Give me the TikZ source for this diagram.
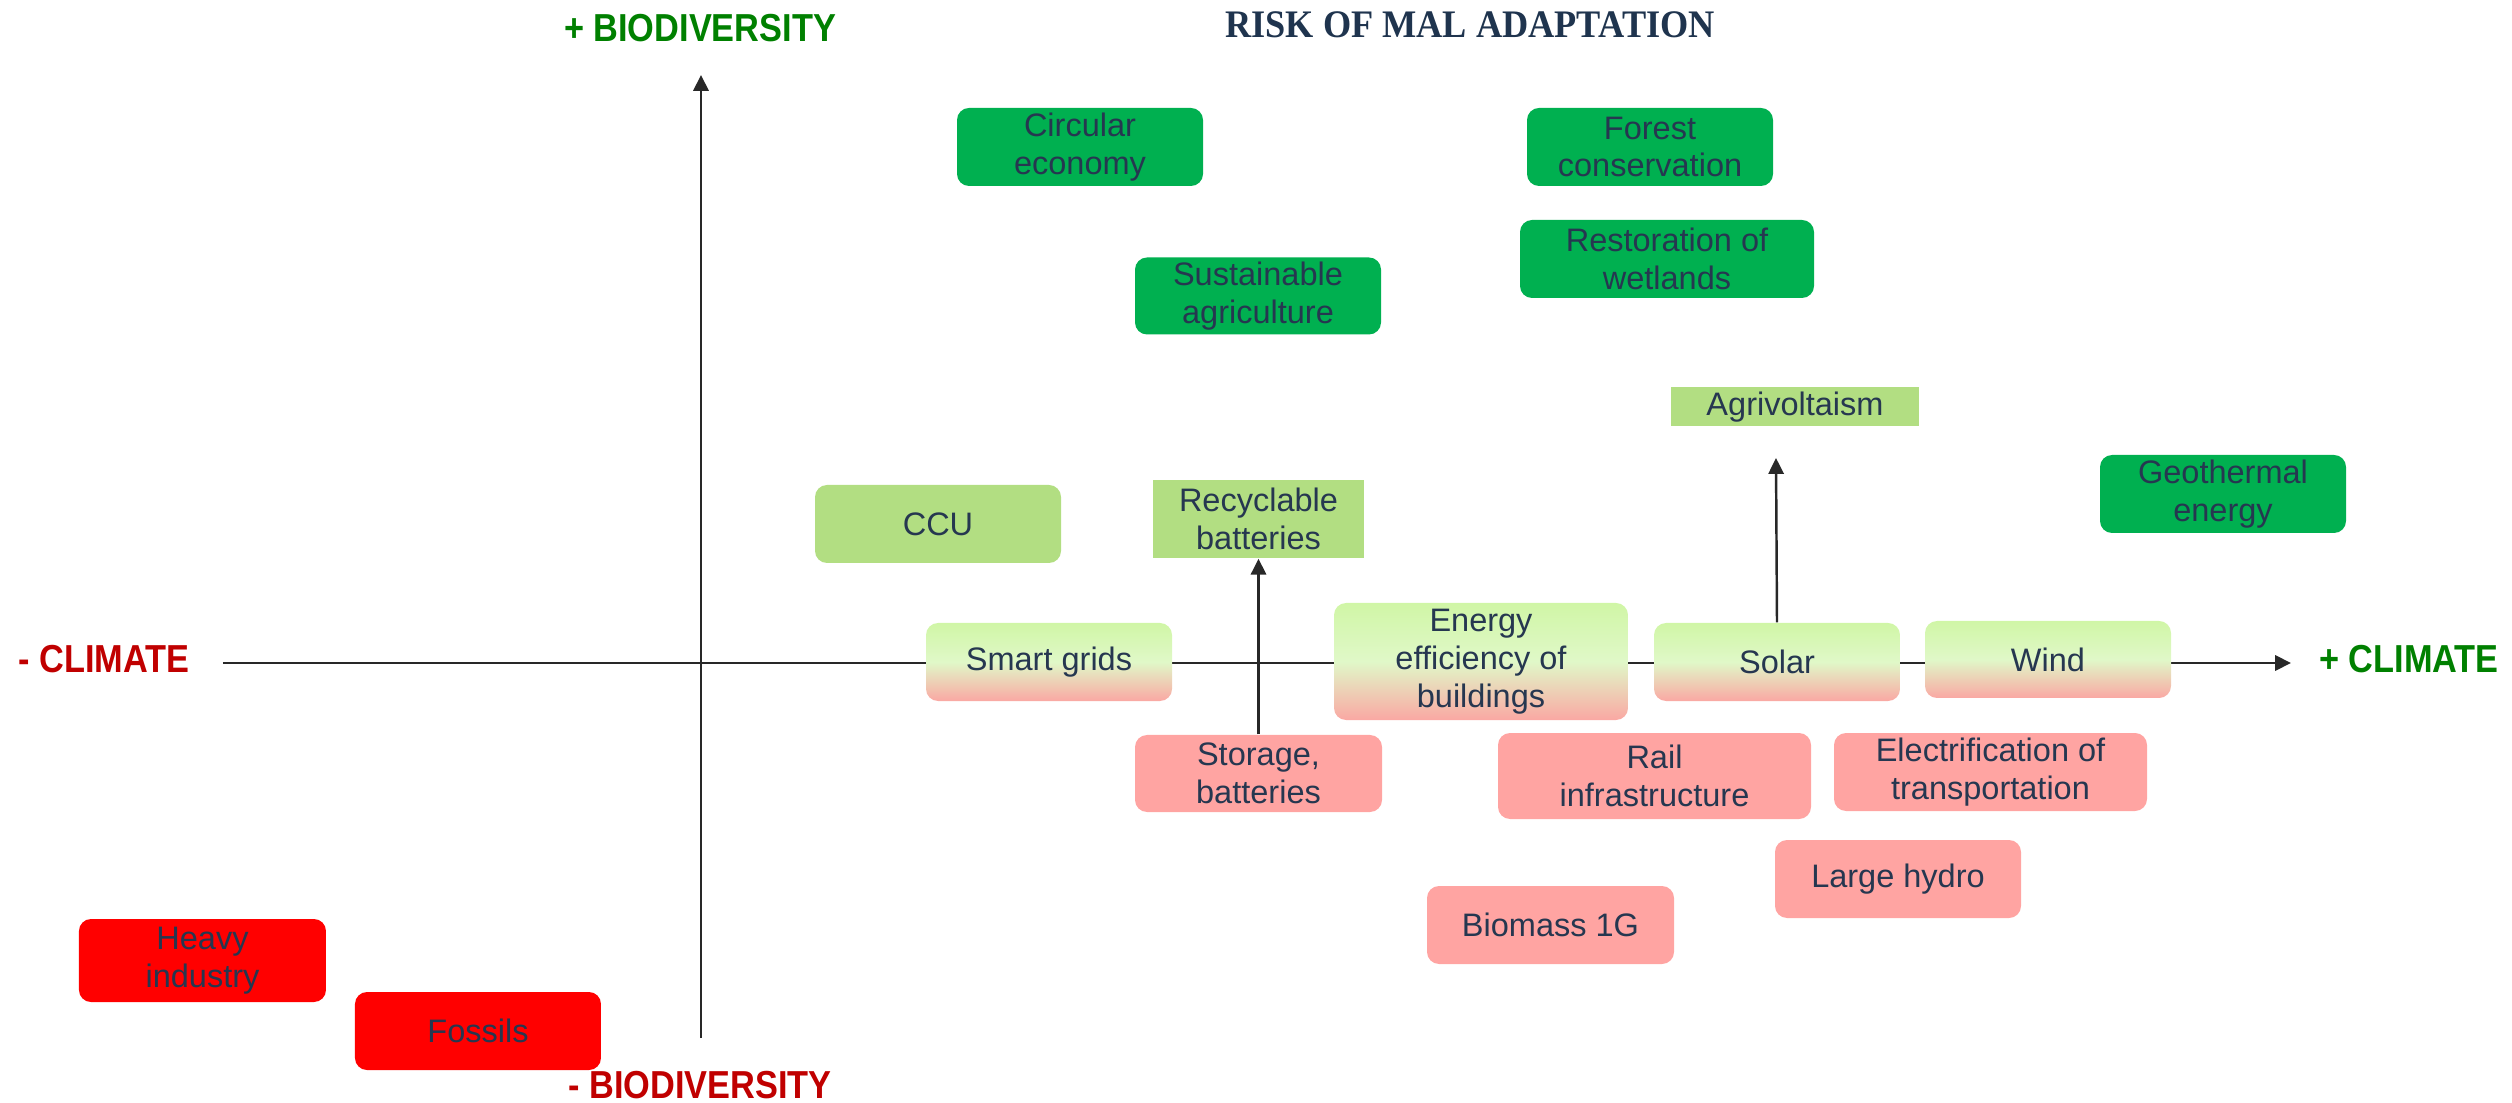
\documentclass[tikz,border=0pt]{standalone}
\usepackage{fontspec}
\setmainfont{Liberation Sans}
\newfontfamily\axisfont[FakeStretch=0.88]{Liberation Sans}
\newfontfamily\titlefont[FakeStretch=0.93]{Liberation Serif}
\usetikzlibrary{arrows.meta,positioning}

\definecolor{labeltext}{RGB}{38,55,80}
\definecolor{titlenavy}{RGB}{31,52,78}
\definecolor{plusgreen}{RGB}{0,128,0}
\definecolor{minusred}{RGB}{192,0,0}
\definecolor{axisgray}{RGB}{40,40,40}
\definecolor{strongfill}{RGB}{0,176,80}
\definecolor{softfill}{RGB}{178,222,130}
\definecolor{mixtop}{RGB}{208,246,166}
\definecolor{mixmid}{RGB}{224,248,200}
\definecolor{mixbot}{RGB}{250,168,163}
\definecolor{weakfill}{RGB}{255,164,162}
\definecolor{badfill}{RGB}{255,0,0}

\begin{document}
\begin{tikzpicture}[x=1cm,y=1cm]
\tikzset{
  mapbox/.style={rectangle,minimum width=2.46cm,minimum height=0.78cm,inner sep=1pt,align=center,text=labeltext,font=\fontsize{9.25}{10.8}\selectfont},
  roundbox/.style={mapbox,rounded corners=0.12cm},
  strongbox/.style={roundbox,fill=strongfill},
  softbox/.style={roundbox,fill=softfill},
  softflat/.style={mapbox,fill=softfill},
  mixedbox/.style={roundbox,top color=mixtop,bottom color=mixbot,middle color=mixmid},
  weakbox/.style={roundbox,fill=weakfill},
  badbox/.style={roundbox,fill=badfill},
  axisline/.style={draw=axisgray,line width=0.8pt,-{Triangle[length=4.5pt,width=4.3pt]}},
  linkarrow/.style={draw=axisgray,line width=0.7pt,-{Triangle[length=4.5pt,width=4.3pt]}},
  axislabel/.style={inner sep=0pt,font=\axisfont\bfseries\fontsize{11.1}{13}\selectfont}
}
\useasboundingbox (-7.01,-4.40) rectangle (18.11,6.63);
% axes
\coordinate (x_lo) at (-4.78,0);
\coordinate (x_hi) at (15.90,0);
\coordinate (y_lo) at (0,-3.75);
\coordinate (y_hi) at (0,5.88);
\draw[axisline] (x_lo) -- (x_hi);
\draw[axisline] (y_lo) -- (y_hi);
\node[axislabel,text=minusred] (l_mclim) at (-5.97,0.04) {- CLIMATE};
\node[axislabel,text=plusgreen] (l_pclim) at (17.08,0.04) {+ CLIMATE};
\node[axislabel,text=plusgreen] (l_pbio) at (-0.01,6.35) {+ BIODIVERSITY};
\node[axislabel,text=minusred] (l_mbio) at (-0.01,-4.22) {- BIODIVERSITY};
\node[inner sep=0pt,text=titlenavy,font=\titlefont\bfseries\fontsize{11.1}{13}\selectfont] (l_title) at (7.69,6.38) {RISK OF MAL ADAPTATION};
% good for both
\node[strongbox] (n_circular) at (3.79,5.16) {Circular\\economy};
\node[strongbox] (n_forest) at (9.49,5.16) {Forest\\conservation};
\node[strongbox,minimum width=2.94cm] (n_wetlands) at (9.66,4.04) {Restoration of\\wetlands};
\node[strongbox,minimum height=0.77cm] (n_agri) at (5.57,3.67) {Sustainable\\agriculture};
\node[strongbox] (n_geo) at (15.22,1.69) {Geothermal\\energy};
\node[softflat,minimum width=2.48cm,minimum height=0.39cm] (n_agrivolt) at (10.94,2.56) {Agrivoltaism};
\node[softbox] (n_ccu) at (2.37,1.39) {CCU};
\node[softflat,minimum width=2.11cm] (n_recycl) at (5.575,1.44) {Recyclable\\batteries};
% on the climate axis
\node[mixedbox] (n_smart) at (3.48,0.01) {Smart grids};
\node[mixedbox,minimum width=2.94cm,minimum height=1.17cm] (n_energy) at (7.80,0.015) {Energy\\efficiency of\\buildings};
\node[mixedbox] (n_solar) at (10.76,0.01) {Solar};
\node[mixedbox,minimum height=0.77cm] (n_wind) at (13.47,0.035) {Wind};
% harmful for biodiversity
\node[weakbox,minimum width=2.47cm,minimum height=0.77cm] (n_storage) at (5.575,-1.105) {Storage,\\batteries};
\node[weakbox,minimum width=3.13cm,minimum height=0.86cm] (n_rail) at (9.535,-1.13) {Rail\\infrastructure};
\node[weakbox,minimum width=3.13cm] (n_electr) at (12.895,-1.09) {Electrification of\\transportation};
\node[weakbox] (n_hydro) at (11.97,-2.16) {Large hydro};
\node[weakbox,minimum width=2.47cm] (n_biomass) at (8.495,-2.62) {Biomass 1G};
\node[badbox,minimum width=2.47cm,minimum height=0.83cm] (n_heavy) at (-4.985,-2.975) {Heavy\\industry};
\node[badbox] (n_fossils) at (-2.23,-3.68) {Fossils};
% shifts
\coordinate (c_agritip) at (10.75,2.05);
\draw[linkarrow] (n_storage) -- (n_recycl);
\draw[linkarrow] (n_solar.north) -- (c_agritip);
\end{tikzpicture}
\end{document}
